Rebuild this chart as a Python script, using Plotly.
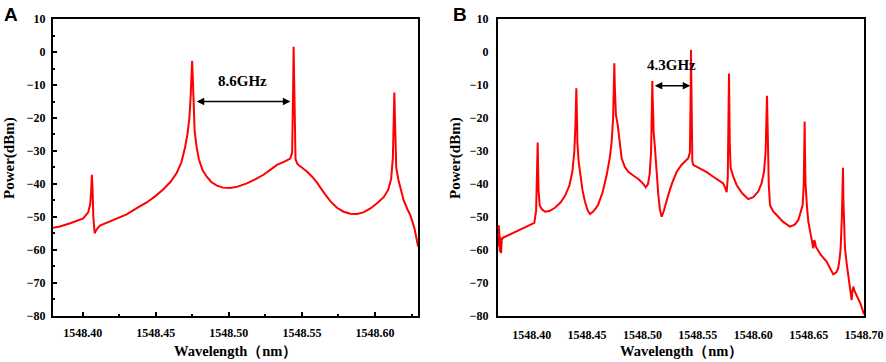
import plotly.graph_objects as go

# ---------------- Data ----------------
wavelength_a = [
    1548.3797, 1548.3845, 1548.3920, 1548.4004, 1548.4038, 1548.4052, 1548.4058, 1548.4063,
    1548.4068, 1548.4073, 1548.4082, 1548.4095, 1548.4118, 1548.4180, 1548.4255, 1548.4301,
    1548.4370, 1548.4438, 1548.4500, 1548.4552, 1548.4600, 1548.4644, 1548.4675, 1548.4700,
    1548.4718, 1548.4730, 1548.4738, 1548.4744, 1548.4749, 1548.4754, 1548.4758, 1548.4766,
    1548.4780, 1548.4795, 1548.4820, 1548.4849, 1548.4880, 1548.4918, 1548.4960, 1548.5010,
    1548.5060, 1548.5123, 1548.5180, 1548.5237, 1548.5290, 1548.5329, 1548.5380, 1548.5420,
    1548.5433, 1548.5437, 1548.5440, 1548.5443, 1548.5447, 1548.5450, 1548.5456, 1548.5470,
    1548.5500, 1548.5534, 1548.5570, 1548.5603, 1548.5650, 1548.5694, 1548.5740, 1548.5785,
    1548.5830, 1548.5877, 1548.5920, 1548.5968, 1548.6020, 1548.6059, 1548.6090, 1548.6110,
    1548.6122, 1548.6127, 1548.6130, 1548.6132, 1548.6135, 1548.6139, 1548.6145, 1548.6160,
    1548.6180, 1548.6196, 1548.6220, 1548.6242, 1548.6270, 1548.6295,
]
power_a = [
    -53.3, -52.9, -51.8, -50.4, -48.6, -46.0, -42.0, -37.2,
    -42.0, -50.0, -54.9, -53.8, -52.6, -51.5, -50.2, -49.2,
    -47.3, -45.6, -43.6, -41.6, -39.4, -36.6, -33.5, -29.0,
    -24.5, -20.0, -14.0, -8.0, -2.7, -8.5, -17.0, -24.0,
    -29.0, -32.5, -35.8, -37.8, -39.4, -40.5, -41.1, -41.2,
    -40.8, -39.8, -38.6, -37.2, -35.5, -34.2, -33.2, -32.3,
    -30.5, -22.0, -10.0, 1.6, -10.0, -25.0, -32.5, -34.0,
    -35.0, -36.2, -37.8, -39.6, -42.6, -45.2, -47.2, -48.4,
    -49.0, -49.1, -48.6, -47.4, -45.6, -44.0, -41.8, -38.5,
    -32.0, -24.0, -17.0, -12.3, -18.0, -28.0, -35.0, -38.8,
    -42.5, -45.0, -47.5, -49.5, -53.5, -59.0,
]

wavelength_b = [
    1548.3700, 1548.3703, 1548.3708, 1548.3712, 1548.3716, 1548.3720, 1548.3724, 1548.3729,
    1548.3740, 1548.3759, 1548.3830, 1548.3910, 1548.3980, 1548.4024, 1548.4040, 1548.4048,
    1548.4052, 1548.4054, 1548.4057, 1548.4062, 1548.4072, 1548.4090, 1548.4120, 1548.4160,
    1548.4210, 1548.4260, 1548.4301, 1548.4340, 1548.4367, 1548.4385, 1548.4395, 1548.4400,
    1548.4403, 1548.4407, 1548.4413, 1548.4425, 1548.4436, 1548.4458, 1548.4481, 1548.4505,
    1548.4526, 1548.4550, 1548.4580, 1548.4601, 1548.4640, 1548.4677, 1548.4705, 1548.4722,
    1548.4735, 1548.4742, 1548.4746, 1548.4750, 1548.4752, 1548.4760, 1548.4776, 1548.4795,
    1548.4812, 1548.4840, 1548.4872, 1548.4920, 1548.4962, 1548.5000, 1548.5029, 1548.5050,
    1548.5065, 1548.5078, 1548.5084, 1548.5087, 1548.5089, 1548.5092, 1548.5098, 1548.5100,
    1548.5113, 1548.5128, 1548.5143, 1548.5158, 1548.5173, 1548.5190, 1548.5210, 1548.5233,
    1548.5270, 1548.5309, 1548.5350, 1548.5384, 1548.5413, 1548.5428, 1548.5433, 1548.5436,
    1548.5438, 1548.5441, 1548.5445, 1548.5450, 1548.5458, 1548.5519, 1548.5580, 1548.5639,
    1548.5690, 1548.5729, 1548.5750, 1548.5760, 1548.5770, 1548.5775, 1548.5778, 1548.5781,
    1548.5784, 1548.5788, 1548.5796, 1548.5820, 1548.5850, 1548.5900, 1548.5955, 1548.6000,
    1548.6045, 1548.6075, 1548.6097, 1548.6112, 1548.6119, 1548.6122, 1548.6124, 1548.6127,
    1548.6132, 1548.6140, 1548.6151, 1548.6180, 1548.6211, 1548.6270, 1548.6331, 1548.6375,
    1548.6407, 1548.6430, 1548.6446, 1548.6456, 1548.6461, 1548.6464, 1548.6467, 1548.6472,
    1548.6485, 1548.6497, 1548.6520, 1548.6542, 1548.6550, 1548.6557, 1548.6565, 1548.6610,
    1548.6662, 1548.6700, 1548.6722, 1548.6750, 1548.6767, 1548.6780, 1548.6789, 1548.6800,
    1548.6806, 1548.6810, 1548.6814, 1548.6820, 1548.6828, 1548.6845, 1548.6858, 1548.6875,
    1548.6888, 1548.6895, 1548.6903, 1548.6915, 1548.6933, 1548.6965, 1548.7000,
]
power_b = [
    -59.0, -52.5, -55.0, -60.5, -56.0, -57.5, -61.0, -57.0,
    -56.3, -56.0, -54.8, -53.4, -52.5, -51.8, -48.0, -40.0,
    -32.0, -27.4, -33.0, -42.0, -46.5, -47.6, -48.4, -48.2,
    -47.2, -45.6, -43.6, -40.5, -36.3, -30.0, -22.0, -15.0,
    -11.0, -17.0, -28.0, -33.5, -36.6, -41.8, -45.4, -48.0,
    -49.1, -48.5, -47.3, -46.2, -42.5, -37.3, -32.0, -27.2,
    -20.0, -10.0, -3.4, -10.0, -14.0, -19.0, -22.0, -28.0,
    -32.2, -34.8, -36.3, -37.5, -38.5, -39.7, -41.0, -40.0,
    -37.0, -30.0, -20.0, -12.0, -8.8, -14.0, -20.0, -24.0,
    -29.2, -37.0, -43.3, -47.8, -49.9, -48.5, -46.0, -43.3,
    -39.5, -36.3, -34.3, -33.2, -32.2, -30.5, -22.0, -10.0,
    0.6, -10.0, -24.0, -33.0, -34.2, -35.2, -36.4, -37.8,
    -38.8, -39.8, -41.5, -42.5, -38.0, -25.0, -15.0, -6.5,
    -15.0, -28.0, -35.2, -37.8, -40.3, -42.8, -44.6, -44.0,
    -42.3, -39.8, -36.3, -30.0, -22.0, -16.0, -13.3, -18.0,
    -30.0, -40.0, -46.4, -48.3, -49.4, -51.5, -52.9, -52.3,
    -50.9, -48.5, -46.4, -40.0, -30.0, -21.1, -30.0, -40.0,
    -47.0, -51.4, -55.5, -59.5, -57.0, -57.5, -59.0, -61.5,
    -63.5, -66.0, -67.4, -66.8, -65.5, -62.5, -59.5, -50.0,
    -42.0, -35.1, -45.0, -53.0, -59.5, -64.5, -67.6, -72.0,
    -75.2, -72.5, -71.1, -72.5, -73.6, -76.0, -79.5,
]

# spacing markers (wavelength start/end, power level) and labels
spacing_a = [1548.4770, 1548.5421, -15.0]
spacing_b = [1548.5098, 1548.5431, -10.2]
label_a = "8.6GHz"
label_b = "4.3GHz"
xticks_a = [1548.40, 1548.45, 1548.50, 1548.55, 1548.60]
xticks_b = [1548.40, 1548.45, 1548.50, 1548.55, 1548.60, 1548.65, 1548.70]
yticks = [10, 0, -10, -20, -30, -40, -50, -60, -70, -80]

# ---------------- Figure ----------------
SERIF = "Liberation Serif"
RED = "#FF0000"

fig = go.Figure()
fig.add_trace(go.Scatter(x=wavelength_a, y=power_a, mode="lines",
                         line=dict(color=RED, width=2), xaxis="x", yaxis="y",
                         showlegend=False, hoverinfo="x+y"))
fig.add_trace(go.Scatter(x=wavelength_b, y=power_b, mode="lines",
                         line=dict(color=RED, width=2), xaxis="x2", yaxis="y2",
                         showlegend=False, hoverinfo="x+y"))

tickfont = dict(family=SERIF, size=12, color="black", weight="bold")

common = dict(showline=True, linecolor="black", linewidth=2, mirror=True,
              showgrid=False, zeroline=False, tickfont=tickfont, automargin=False)

fig.update_layout(
    width=886, height=362,
    margin=dict(l=0, r=0, t=0, b=0),
    plot_bgcolor="white", paper_bgcolor="white",
    xaxis=dict(domain=[0.0598, 0.4718], range=[1548.3797, 1548.6294], anchor="y",
               tickvals=xticks_a, tickformat=".2f", ticks="inside", ticklen=4, tickwidth=1.5,
               tickcolor="black", ticklabelstandoff=5,
               minor=dict(ticks="inside", dtick=0.025, tick0=1548.40, ticklen=2,
                          tickwidth=1.5, tickcolor="black"),
               **common),
    yaxis=dict(domain=[0.1271, 0.9475], range=[-80, 10], anchor="x",
               tickvals=yticks, ticks="inside", ticklen=4, tickwidth=1.5,
               tickcolor="black", ticklabelstandoff=3,
               minor=dict(ticks="inside", dtick=5, tick0=0, ticklen=2,
                          tickwidth=1.5, tickcolor="black"),
               **common),
    xaxis2=dict(domain=[0.5621, 0.9752], range=[1548.3696, 1548.70], anchor="y2",
                tickvals=xticks_b, tickformat=".2f", ticks="", ticklabelstandoff=7,
                **common),
    yaxis2=dict(domain=[0.1271, 0.9475], range=[-80, 10], anchor="x2",
                tickvals=yticks, ticks="", ticklabelstandoff=5,
                **common),
)

title_font = dict(family=SERIF, size=15, color="black", weight="bold")
axis_title_font = dict(family=SERIF, size=14.5, color="black", weight="bold")
panel_font = dict(family="Liberation Sans", size=19, color="black", weight="bold")

ann = []
# panel letters
ann.append(dict(text="A", x=2 / 886, y=1 - 2 / 362, xref="paper", yref="paper",
                xanchor="left", yanchor="top", showarrow=False, font=panel_font))
ann.append(dict(text="B", x=451 / 886, y=1 - 2 / 362, xref="paper", yref="paper",
                xanchor="left", yanchor="top", showarrow=False, font=panel_font))
# axis titles
for xc, yc in [(235.5 / 886, 9 / 886), (681 / 886, 455 / 886)]:
    ann.append(dict(text="Wavelength（nm）", x=xc, y=1 - 351 / 362, xref="paper", yref="paper",
                    xanchor="center", yanchor="middle", showarrow=False, font=axis_title_font))
    ann.append(dict(text="Power(dBm)", x=yc, y=1 - 158 / 362, xref="paper", yref="paper",
                    xanchor="center", yanchor="middle", textangle=-90, showarrow=False,
                    font=title_font))

# spacing arrows
for (x0, x1, yv), xr, yr, lab in [(spacing_a, "x", "y", label_a), (spacing_b, "x2", "y2", label_b)]:
    ann.append(dict(x=x1, y=yv, ax=x0, ay=yv, xref=xr, yref=yr, axref=xr, ayref=yr,
                    text="", showarrow=True, arrowhead=2, arrowside="end+start",
                    arrowsize=1, arrowwidth=1.5, arrowcolor="black", standoff=0, startstandoff=0))
    ann.append(dict(x=(x0 + x1) / 2, y=yv + 3.2, xref=xr, yref=yr, text=lab,
                    showarrow=False, yanchor="bottom", xanchor="center",
                    font=dict(family=SERIF, size=15, color="black", weight="bold")))

fig.update_layout(annotations=ann)

fig.write_html(
    "out.html",
    config={"displayModeBar": False},
    post_script="document.body.style.margin='0px';document.body.style.overflow='hidden';",
)
